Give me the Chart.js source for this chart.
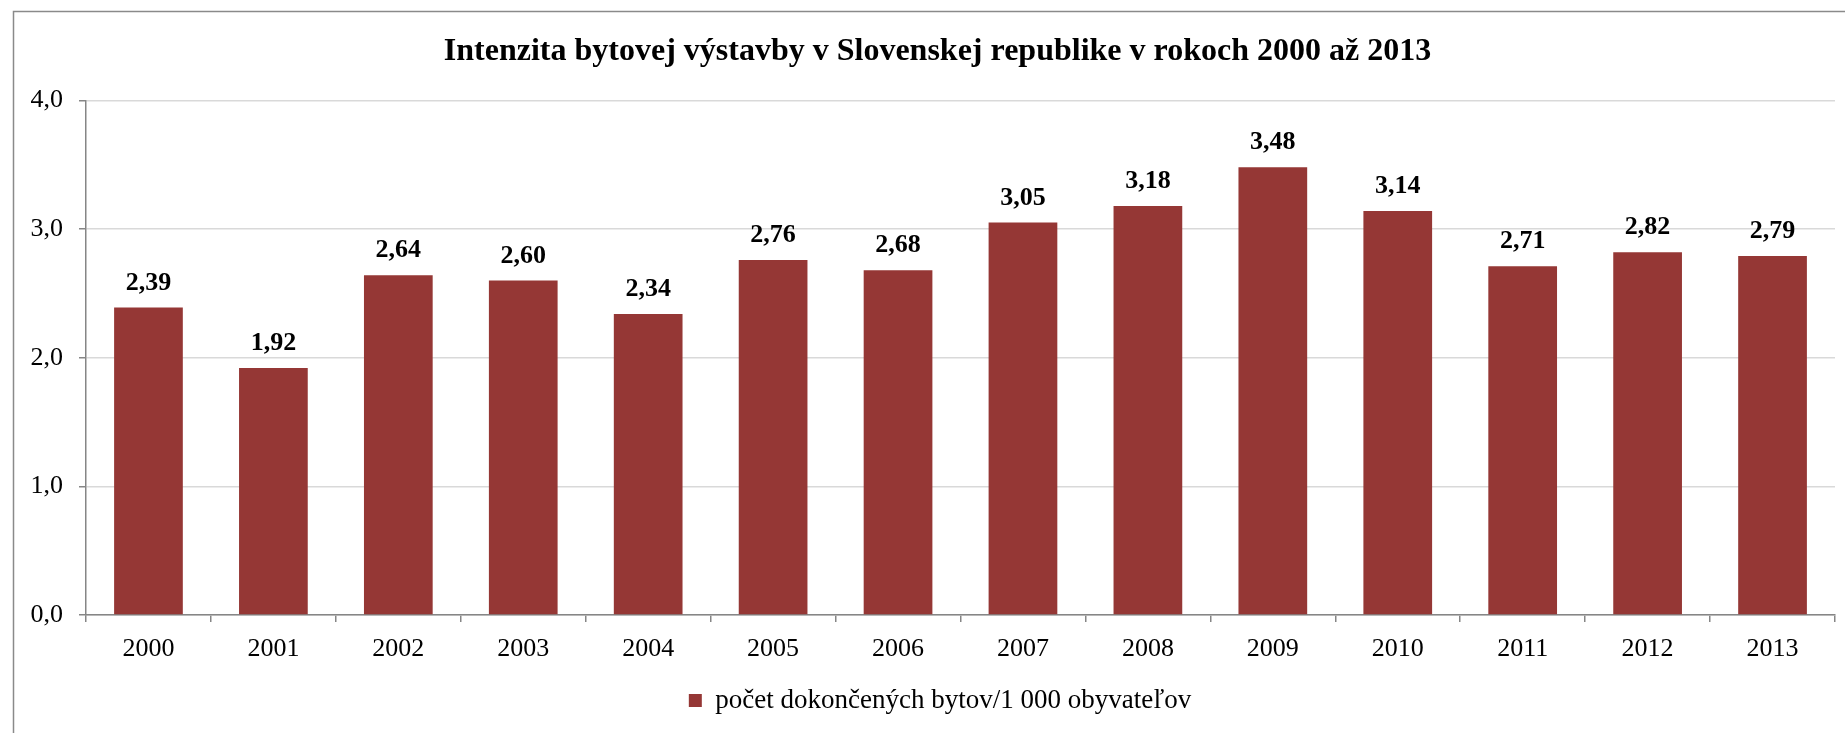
<!DOCTYPE html>
<html>
<head>
<meta charset="utf-8">
<title>Intenzita bytovej výstavby</title>
<script src="https://cdn.jsdelivr.net/npm/chart.js@4"></script>
<style>
    html, body { margin: 0; padding: 0; background: #ffffff; overflow: hidden; }
    canvas { display: block; }
</style>
</head>
<body>
<canvas id="chart" width="1845" height="733"></canvas>
<script>
// Chart data
const years = ['2000', '2001', '2002', '2003', '2004', '2005', '2006',
               '2007', '2008', '2009', '2010', '2011', '2012', '2013'];
const flatsPer1000 = [2.39, 1.92, 2.64, 2.60, 2.34, 2.76, 2.68,
                      3.05, 3.18, 3.48, 3.14, 2.71, 2.82, 2.79];
const yTicks = [0, 1, 2, 3, 4];

const FONT = '"Liberation Serif", "Times New Roman", serif';
const BAR_COLOR = '#953735';
const AXIS_COLOR = '#868686';
const GRID_COLOR = '#d9d9d9';

const toComma = (v, d) => v.toFixed(d).replace('.', ',');

// Outer frame of the chart object
const framePlugin = {
    id: 'frame',
    afterLayout(chart) {
        // title and legend sit a bit right of the canvas centre
        chart.titleBlock.left += 40;
        chart.legend.left += 45;
    },
    afterDraw(chart) {
        const ctx = chart.ctx;
        ctx.save();
        ctx.strokeStyle = '#8a8a8a';
        ctx.lineWidth = 1.5;
        ctx.strokeRect(13.5, 11.5, chart.width + 20, chart.height + 20);
        ctx.restore();
    }
};

// Bold value labels above the bars
const valueLabels = {
    id: 'valueLabels',
    afterDatasetsDraw(chart) {
        const ctx = chart.ctx;
        const meta = chart.getDatasetMeta(0);
        ctx.save();
        ctx.font = 'bold 26px ' + FONT;
        ctx.fillStyle = '#000000';
        ctx.textAlign = 'center';
        ctx.textBaseline = 'alphabetic';
        meta.data.forEach((bar, i) => {
            ctx.fillText(toComma(flatsPer1000[i], 2), bar.x, bar.y - 18);
        });
        ctx.restore();
    }
};

new Chart(document.getElementById('chart'), {
    type: 'bar',
    data: {
        labels: years,
        datasets: [{
            label: 'počet dokončených bytov/1 000 obyvateľov',
            data: flatsPer1000,
            backgroundColor: BAR_COLOR,
            borderWidth: 0,
            categoryPercentage: 1,
            barPercentage: 0.55
        }]
    },
    options: {
        responsive: false,
        animation: false,
        devicePixelRatio: 1,
        layout: {
            padding: { left: 0, right: 10, top: 0, bottom: 9 }
        },
        plugins: {
            title: {
                display: true,
                text: 'Intenzita bytovej výstavby v Slovenskej republike v rokoch 2000 až 2013',
                color: '#000000',
                font: { family: FONT, size: 32, weight: 'bold', lineHeight: 1.2 },
                padding: { top: 33, bottom: 29 }
            },
            legend: {
                position: 'bottom',
                labels: {
                    color: '#000000',
                    font: { family: FONT, size: 27 },
                    boxWidth: 13,
                    boxHeight: 13,
                    padding: 10
                }
            },
            tooltip: { enabled: false }
        },
        scales: {
            x: {
                grid: {
                    display: true,
                    drawOnChartArea: false,
                    color: AXIS_COLOR,
                    lineWidth: 1.5,
                    tickLength: 7,
                    offset: true
                },
                border: { display: true, color: AXIS_COLOR, width: 1.5 },
                ticks: {
                    color: '#000000',
                    font: { family: FONT, size: 26 },
                    padding: 12,
                    maxRotation: 0
                },
                afterFit(scale) { scale.height = 62; }
            },
            y: {
                min: 0,
                max: 4,
                afterBuildTicks(scale) {
                    scale.ticks = yTicks.map(v => ({ value: v }));
                },
                grid: {
                    color: GRID_COLOR,
                    lineWidth: 1.5,
                    tickColor: AXIS_COLOR,
                    tickLength: 7
                },
                border: { display: true, color: AXIS_COLOR, width: 1.5 },
                ticks: {
                    color: '#000000',
                    font: { family: FONT, size: 26 },
                    padding: 16,
                    callback: v => toComma(v, 1)
                },
                afterFit(scale) { scale.width = 86; }
            }
        }
    },
    plugins: [framePlugin, valueLabels]
});
</script>
</body>
</html>
